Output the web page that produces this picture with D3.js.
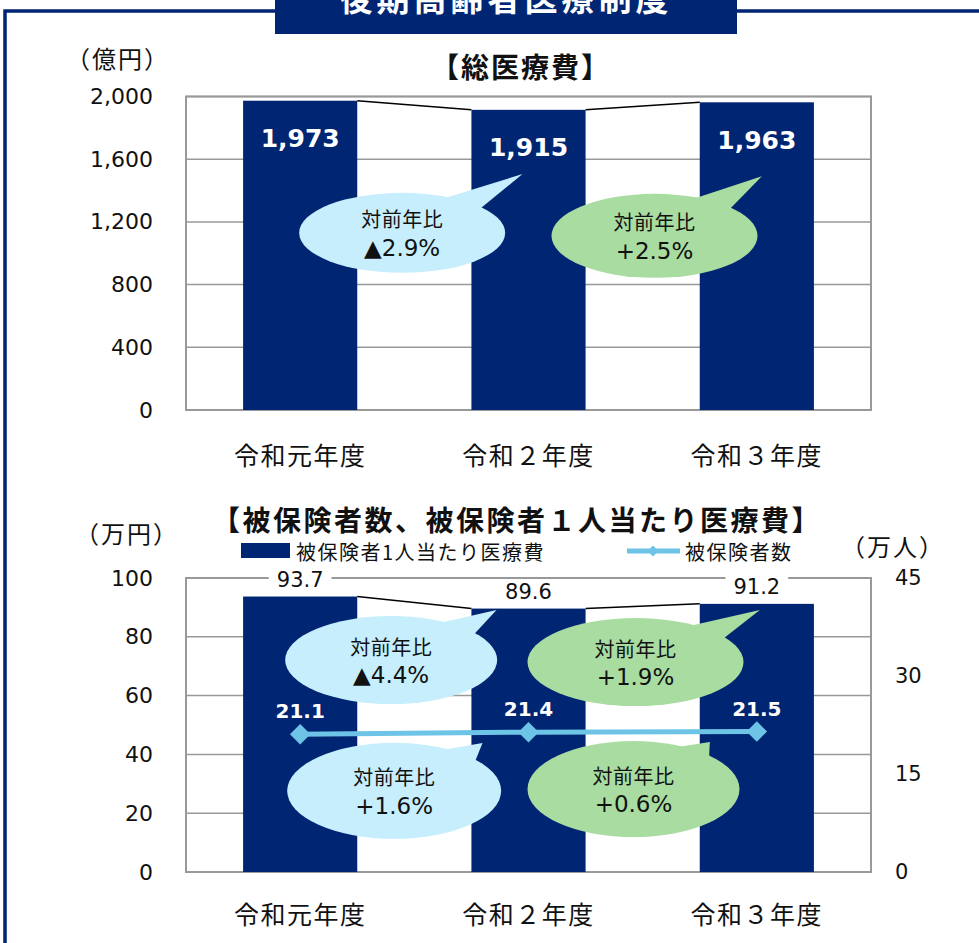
<!DOCTYPE html>
<html>
<head>
<meta charset="utf-8">
<script src="https://cdn.jsdelivr.net/npm/d3@7"></script>
<style>
body { margin: 0; background: #fff; }
</style>
</head>
<body>
<div id="plot"></div>
<script>
// data
var categories = ["令和元年度", "令和２年度", "令和３年度"];
var totalCost = [1973, 1915, 1963];
var totalTicks = [0, 400, 800, 1200, 1600, 2000];
var totalChange = ["▲2.9%", "+2.5%"];
var perCapita = [93.7, 89.6, 91.2];
var perCapitaTicks = [0, 20, 40, 60, 80, 100];
var perCapitaChange = ["▲4.4%", "+1.9%"];
var insured = [21.1, 21.4, 21.5];
var insuredTicks = [0, 15, 30, 45];
var insuredChange = ["+1.6%", "+0.6%"];

var navy = "#002673", sky = "#C6EEFC", leaf = "#A9DCA0", lineBlue = "#6EC4E6", grid = "#999";
var jp  = "'Noto Sans CJK JP', sans-serif",
    num = "'DejaVu Sans', 'Noto Sans CJK JP', sans-serif";
var W = 979, H = 943;
var plotX = {left: 186, right: 871};

var svg = d3.select("#plot").append("svg")
    .attr("width", W)
    .attr("height", H);

// frame and top title box
svg.append("path")
    .attr("d", "M5," + H + " V11 H" + W)
    .attr("fill", "none")
    .attr("stroke", navy)
    .attr("stroke-width", 3.5);

svg.append("rect")
    .attr("x", 275).attr("y", 0)
    .attr("width", 462).attr("height", 34)
    .attr("fill", navy);

svg.append("text")
    .attr("x", 506).attr("y", 11)
    .attr("text-anchor", "middle")
    .style("font-family", jp)
    .style("font-weight", "bold")
    .style("font-size", "33px")
    .style("letter-spacing", "4px")
    .attr("fill", "white")
    .text("後期高齢者医療制度");

var x = d3.scaleBand()
    .domain(categories)
    .range([plotX.left, plotX.right])
    .paddingInner(0.5)
    .paddingOuter(0.25);

function xc(i){ return x(categories[i]) + x.bandwidth() / 2; }

// speech bubble: ellipse plus wedge pointing at the tip
function bubble(g, cx, cy, rx, ry, tx, ty, fill, pct){
    var t = Math.atan2((ty - cy) / ry, (tx - cx) / rx);
    var a1 = t - 0.25, a2 = t + 0.25;
    g.append("ellipse")
        .attr("cx", cx).attr("cy", cy)
        .attr("rx", rx).attr("ry", ry)
        .attr("fill", fill);
    g.append("path")
        .attr("d", "M" + (cx + rx * 0.92 * Math.cos(a1)) + "," + (cy + ry * 0.92 * Math.sin(a1)) +
                   " L" + tx + "," + ty +
                   " L" + (cx + rx * 0.92 * Math.cos(a2)) + "," + (cy + ry * 0.92 * Math.sin(a2)) + " Z")
        .attr("fill", fill);
    g.append("text")
        .attr("x", cx).attr("y", cy - 14)
        .attr("text-anchor", "middle")
        .attr("dominant-baseline", "central")
        .style("font-family", jp)
        .style("font-size", "20px")
        .style("letter-spacing", "0.5px")
        .attr("fill", "#111")
        .text("対前年比");
    g.append("text")
        .attr("x", cx).attr("y", cy + 15)
        .attr("text-anchor", "middle")
        .attr("dominant-baseline", "central")
        .style("font-family", num)
        .style("font-size", "23px")
        .attr("fill", "#111")
        .text(pct);
}

function frameAndGrid(g, y, ticks, top, bottom){
    g.selectAll(".grid")
        .data(ticks)
        .enter().append("line")
        .attr("x1", plotX.left).attr("x2", plotX.right)
        .attr("y1", function(d){ return y(d); })
        .attr("y2", function(d){ return y(d); })
        .attr("stroke", grid)
        .attr("stroke-width", 1.5);
    g.append("rect")
        .attr("x", plotX.left).attr("y", top)
        .attr("width", plotX.right - plotX.left)
        .attr("height", bottom - top)
        .attr("fill", "none")
        .attr("stroke", grid)
        .attr("stroke-width", 2);
}

function leftAxis(g, y, ticks, fmt){
    g.append("g")
        .attr("transform", "translate(" + 153 + ",0)")
        .call(d3.axisLeft(y).tickValues(ticks).tickSize(0).tickPadding(0).tickFormat(fmt))
        .call(function(a){ a.select(".domain").remove(); })
        .selectAll("text")
        .style("font-family", num)
        .style("font-size", "22px")
        .attr("fill", "#111");
}

function categoryAxis(g, yPos){
    g.append("g")
        .attr("transform", "translate(0," + yPos + ")")
        .call(d3.axisBottom(x).tickSize(0))
        .call(function(a){ a.select(".domain").remove(); })
        .selectAll("text")
        .attr("y", 0)
        .attr("dy", "0.35em")
        .style("font-family", jp)
        .style("font-size", "25px")
        .style("letter-spacing", "1.5px")
        .attr("fill", "#111");
}

function seriesLines(g, y, vals){
    for (var i = 0; i < vals.length - 1; i++){
        g.append("line")
            .attr("x1", x(categories[i]) + x.bandwidth())
            .attr("y1", y(vals[i]))
            .attr("x2", x(categories[i + 1]))
            .attr("y2", y(vals[i + 1]))
            .attr("stroke", "black")
            .attr("stroke-width", 1.5);
    }
}

function unitLabel(g, cx, cy, txt){
    g.append("text")
        .attr("x", cx).attr("y", cy)
        .attr("text-anchor", "middle")
        .attr("dominant-baseline", "central")
        .style("font-family", jp).style("font-size", "24px")
        .style("letter-spacing", "2px")
        .attr("fill", "#111")
        .text(txt);
}

// ---------- chart 1: 総医療費 ----------
var top1 = 96.5, bottom1 = 410;
var y1 = d3.scaleLinear().domain([0, 2000]).range([bottom1, top1]);
var g1 = svg.append("g");

unitLabel(g1, 118, 57, "（億円）");

g1.append("text")
    .attr("x", 521).attr("y", 66)
    .attr("text-anchor", "middle")
    .attr("dominant-baseline", "central")
    .style("font-family", jp).style("font-size", "28px")
    .style("font-weight", "bold").style("letter-spacing", "2px")
    .attr("fill", "#111")
    .text("【総医療費】");

frameAndGrid(g1, y1, totalTicks, top1, bottom1);
leftAxis(g1, y1, totalTicks, d3.format(","));
categoryAxis(g1, 456);

g1.selectAll(".bar")
    .data(totalCost)
    .enter().append("rect")
    .attr("x", function(d, i){ return x(categories[i]); })
    .attr("y", function(d){ return y1(d); })
    .attr("width", x.bandwidth())
    .attr("height", function(d){ return bottom1 - y1(d); })
    .attr("fill", navy);

seriesLines(g1, y1, totalCost);

g1.selectAll(".val")
    .data(totalCost)
    .enter().append("text")
    .attr("x", function(d, i){ return xc(i); })
    .attr("y", function(d){ return y1(d) + 38; })
    .attr("text-anchor", "middle")
    .attr("dominant-baseline", "central")
    .style("font-family", num).style("font-size", "25px").style("font-weight", "bold")
    .attr("fill", "white")
    .text(function(d){ return d3.format(",")(d); });

bubble(g1, xc(0) + 102, y1(1130), 103, 40, xc(1) - 6, y1(1505), sky, totalChange[0]);
bubble(g1, xc(1) + 126, y1(1111), 103, 42, xc(2) + 5, y1(1492), leaf, totalChange[1]);

// ---------- chart 2: 被保険者数、1人当たり医療費 ----------
var top2 = 578, bottom2 = 872;
var y2 = d3.scaleLinear().domain([0, 100]).range([bottom2, top2]);
var y2r = d3.scaleLinear().domain([0, 45]).range([bottom2, top2]);
var g2 = svg.append("g");

g2.append("text")
    .attr("x", 517).attr("y", 519)
    .attr("text-anchor", "middle")
    .attr("dominant-baseline", "central")
    .style("font-family", jp).style("font-size", "28px")
    .style("font-weight", "bold").style("letter-spacing", "2.5px")
    .attr("fill", "#111")
    .text("【被保険者数、被保険者１人当たり医療費】");

unitLabel(g2, 127, 532, "（万円）");
unitLabel(g2, 893, 545, "（万人）");

// legend
g2.append("rect")
    .attr("x", 241).attr("y", 543).attr("width", 49).attr("height", 15)
    .attr("fill", navy);
g2.append("text")
    .attr("x", 296).attr("y", 551).attr("dominant-baseline", "central")
    .style("font-family", jp).style("font-size", "20px").style("letter-spacing", "1.5px")
    .attr("fill", "#111")
    .text("被保険者1人当たり医療費");
g2.append("line")
    .attr("x1", 627).attr("x2", 680).attr("y1", 551).attr("y2", 551)
    .attr("stroke", lineBlue).attr("stroke-width", 5);
g2.append("path")
    .attr("d", d3.symbol().type(d3.symbolSquare).size(60)())
    .attr("transform", "translate(653,551) rotate(45)")
    .attr("fill", lineBlue);
g2.append("text")
    .attr("x", 685).attr("y", 551).attr("dominant-baseline", "central")
    .style("font-family", jp).style("font-size", "20px").style("letter-spacing", "1.5px")
    .attr("fill", "#111")
    .text("被保険者数");

frameAndGrid(g2, y2, perCapitaTicks, top2, bottom2);
leftAxis(g2, y2, perCapitaTicks, d3.format("d"));
categoryAxis(g2, 915);

g2.append("g")
    .attr("transform", "translate(" + 895 + ",0)")
    .call(d3.axisRight(y2r).tickValues(insuredTicks).tickSize(0).tickPadding(0))
    .call(function(a){ a.select(".domain").remove(); })
    .selectAll("text")
    .style("font-family", num)
    .style("font-size", "21px")
    .attr("fill", "#111");

g2.selectAll(".bar")
    .data(perCapita)
    .enter().append("rect")
    .attr("x", function(d, i){ return x(categories[i]); })
    .attr("y", function(d){ return y2(d); })
    .attr("width", x.bandwidth())
    .attr("height", function(d){ return bottom2 - y2(d); })
    .attr("fill", navy);

seriesLines(g2, y2, perCapita);

// bar value labels on white
perCapita.forEach(function(d, i){
    var t = g2.append("text")
        .attr("x", xc(i)).attr("y", y2(d) - 17)
        .attr("text-anchor", "middle").attr("dominant-baseline", "central")
        .style("font-family", num).style("font-size", "21px")
        .attr("fill", "#111")
        .text(d3.format(".1f")(d));
    var b = t.node().getBBox();
    g2.insert("rect", function(){ return t.node(); })
        .attr("x", b.x - 8).attr("y", b.y)
        .attr("width", b.width + 16).attr("height", b.height)
        .attr("fill", "white");
});

bubble(g2, xc(0) + 91, y2(72.1), 106, 44, xc(1) - 32, y2(89.1), sky, perCapitaChange[0]);
bubble(g2, xc(1) + 107, y2(71.4), 108, 44, xc(2) + 3, y2(89.1), leaf, perCapitaChange[1]);
bubble(g2, xc(0) + 94, y2(27.6), 107, 48, xc(1) - 46, y2(43.9), sky, insuredChange[0]);
bubble(g2, xc(1) + 105, y2(28.2), 106, 48, xc(2) - 47, y2(44.2), leaf, insuredChange[1]);

// 被保険者数 line
var valueline = d3.line()
    .x(function(d, i){ return xc(i); })
    .y(function(d){ return y2r(d); });

g2.append("path")
    .datum(insured)
    .attr("fill", "none")
    .attr("stroke", lineBlue)
    .attr("stroke-width", 5)
    .attr("d", valueline);

g2.selectAll(".dot")
    .data(insured)
    .enter().append("path")
    .attr("d", d3.symbol().type(d3.symbolSquare).size(210)())
    .attr("transform", function(d, i){ return "translate(" + xc(i) + "," + y2r(d) + ") rotate(45)"; })
    .attr("fill", lineBlue);

g2.selectAll(".lbl")
    .data(insured)
    .enter().append("text")
    .attr("x", function(d, i){ return xc(i); })
    .attr("y", function(d){ return y2r(d) - 23; })
    .attr("text-anchor", "middle").attr("dominant-baseline", "central")
    .style("font-family", num).style("font-size", "20px").style("font-weight", "bold")
    .attr("fill", "white")
    .text(function(d){ return d3.format(".1f")(d); });
</script>
</body>
</html>
